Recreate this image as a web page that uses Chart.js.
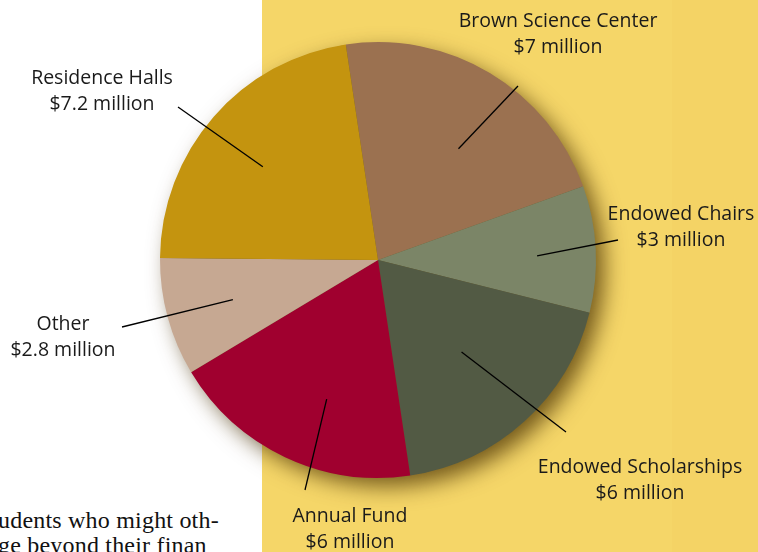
<!DOCTYPE html>
<html>
<head>
<meta charset="utf-8">
<script src="https://cdn.jsdelivr.net/npm/chart.js@4.4.0/dist/chart.umd.min.js"></script>
<style>
  html, body { margin:0; padding:0; width:758px; height:552px; overflow:hidden; background:#ffffff; }
  #wrap { position:relative; width:758px; height:552px; }
  #bg1 { position:absolute; left:262px; top:0; width:410px; height:552px; background:#f5d668; }
  #bg2 { position:absolute; left:672px; top:0; width:86px; height:552px; background:#f4d365; }
  #c { position:absolute; left:0; top:0; }
  .prose { position:absolute; left:-2px; font-family:"Liberation Serif", serif; font-size:24px; color:#111; white-space:nowrap; letter-spacing:0.2px; }
</style>
</head>
<body>
<div id="wrap">
  <div id="bg1"></div><div id="bg2"></div>
  <div class="prose" style="top:507px;">udents who might oth-</div>
  <div class="prose" style="top:532px;">ge beyond their finan</div>
  <canvas id="c" width="758" height="552"></canvas>
</div>
<script>
const categories = ["Brown Science Center", "Endowed Chairs", "Endowed Scholarships", "Annual Fund", "Other", "Residence Halls"];
const values = [7, 3, 6, 6, 2.8, 7.2];
const colors = ["#9b7150", "#7b8567", "#525a44", "#a0002f", "#c6a892", "#c4940f"];
const valueLabels = values.map(v => "$" + v + " million");

// label layout: text center, line end near label, inner radius fraction, angle tweak (deg)
const labelLayout = [
  { tx: 558, ty: 21,  ex: 518, ey: 86,  rf: 0.63, da: 5 },
  { tx: 681, ty: 214, ex: 618, ey: 240, rf: 0.73, da: 1.4 },
  { tx: 640, ty: 467, ex: 566, ey: 432, rf: 0.57, da: 0 },
  { tx: 350, ty: 516, ex: 305, ey: 490, rf: 0.68, da: -5 },
  { tx: 63,  ty: 324, ex: 122, ey: 327, rf: 0.69, da: 0 },
  { tx: 102, ty: 78,  ex: 178, ey: 107, rf: 0.68, da: -2 }
];

const shadowPlugin = {
  id: 'shadow',
  beforeDatasetsDraw(chart) {
    const arc = chart.getDatasetMeta(0).data[0];
    if (!arc) return;
    const ctx = chart.ctx;
    ctx.save();
    ctx.shadowColor = 'rgba(70,45,0,0.75)';
    ctx.shadowBlur = 22;
    ctx.shadowOffsetX = 9;
    ctx.shadowOffsetY = 9;
    ctx.fillStyle = '#6b5a2a';
    ctx.beginPath();
    ctx.arc(arc.x, arc.y, arc.outerRadius - 1, 0, Math.PI * 2);
    ctx.fill();
    ctx.restore();
  }
};

const labelPlugin = {
  id: 'leaderLabels',
  afterDatasetsDraw(chart) {
    const ctx = chart.ctx;
    const meta = chart.getDatasetMeta(0);
    ctx.save();
    meta.data.forEach((arc, i) => {
      const L = labelLayout[i];
      const mid = (arc.startAngle + arc.endAngle) / 2 + L.da * Math.PI / 180;
      const r = arc.outerRadius * L.rf;
      const x0 = arc.x + Math.cos(mid) * r;
      const y0 = arc.y + Math.sin(mid) * r;
      ctx.strokeStyle = '#000';
      ctx.lineWidth = 1.3;
      ctx.beginPath();
      ctx.moveTo(x0, y0);
      ctx.lineTo(L.ex, L.ey);
      ctx.stroke();
      ctx.fillStyle = '#1a1a1a';
      ctx.font = '19.5px "Open Sans", sans-serif';
      ctx.textAlign = 'center';
      ctx.textBaseline = 'middle';
      ctx.fillText(categories[i], L.tx, L.ty);
      ctx.fillText(valueLabels[i], L.tx, L.ty + 26);
    });
    ctx.restore();
  }
};

new Chart(document.getElementById('c'), {
  type: 'pie',
  data: {
    labels: categories,
    datasets: [{
      data: values,
      backgroundColor: colors,
      borderWidth: 0,
      hoverOffset: 0
    }]
  },
  options: {
    responsive: false,
    animation: false,
    rotation: -8.5,
    layout: { padding: { left: 160, right: 162, top: 42, bottom: 74 } },
    plugins: { legend: { display: false }, tooltip: { enabled: false } }
  },
  plugins: [shadowPlugin, labelPlugin]
});
</script>
</body>
</html>
